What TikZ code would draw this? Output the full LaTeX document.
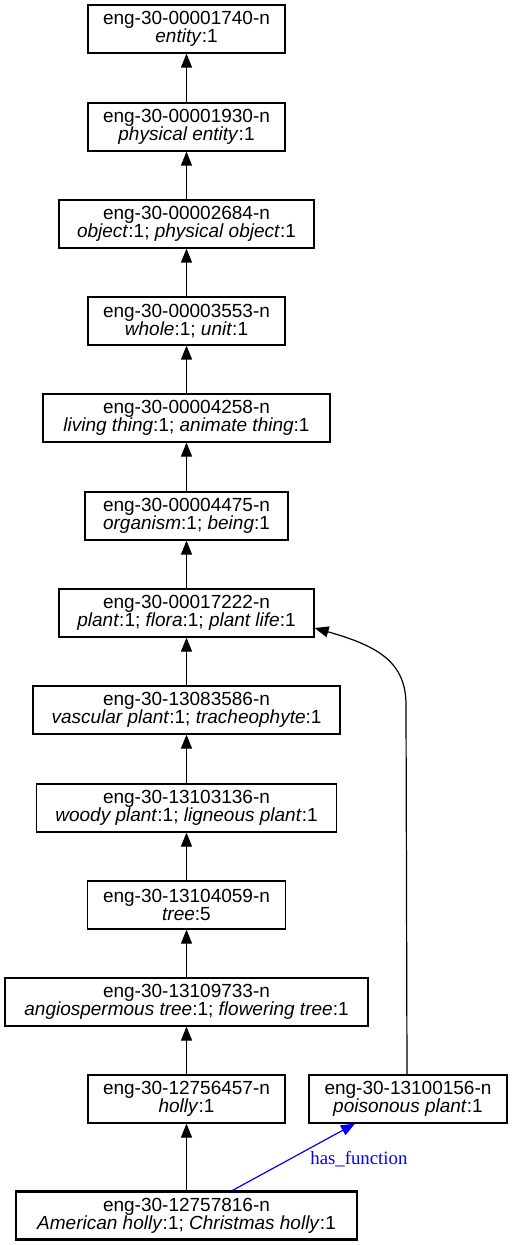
\documentclass[tikz,border=0pt]{standalone}
\usepackage{fontspec}
\setmainfont{Liberation Sans}
\newfontfamily\seriffont{Liberation Serif}
\usetikzlibrary{arrows.meta}
\begin{document}
\begin{tikzpicture}[x=0.5pt,y=-0.5pt,
  synset/.style={draw=black,line width=0.6pt,rectangle,inner sep=0pt,minimum height=24pt,
    align=center,font=\fontsize{9.5}{9}\selectfont},
  hyper/.style={draw=black,line width=0.6pt,-{Triangle[length=7pt,width=5.5pt]}},
  func/.style={draw=blue,line width=0.6pt,-{Triangle[length=7pt,width=5.5pt]}}]
\useasboundingbox (0,0) rectangle (512,1245);
\node[synset,minimum width=98.5pt]  (n1)  at (186.5,29)  {eng-30-00001740-n\\\textit{entity}:1};
\node[synset,minimum width=98.5pt]  (n2)  at (186.5,127) {eng-30-00001930-n\\\textit{physical entity}:1};
\node[synset,minimum width=127.5pt] (n3)  at (186.5,224) {eng-30-00002684-n\\\textit{object}:1; \textit{physical object}:1};
\node[synset,minimum width=98.5pt]  (n4)  at (186.5,321) {eng-30-00003553-n\\\textit{whole}:1; \textit{unit}:1};
\node[synset,minimum width=143.5pt] (n5)  at (186.5,418) {eng-30-00004258-n\\\textit{living thing}:1; \textit{animate thing}:1};
\node[synset,minimum width=101.5pt] (n6)  at (186.5,516) {eng-30-00004475-n\\\textit{organism}:1; \textit{being}:1};
\node[synset,minimum width=127.5pt] (n7)  at (186.5,613) {eng-30-00017222-n\\\textit{plant}:1; \textit{flora}:1; \textit{plant life}:1};
\node[synset,minimum width=153.5pt] (n8)  at (186.5,710) {eng-30-13083586-n\\\textit{vascular plant}:1; \textit{tracheophyte}:1};
\node[synset,minimum width=150pt]   (n9)  at (186.5,808) {eng-30-13103136-n\\\textit{woody plant}:1; \textit{ligneous plant}:1};
\node[synset,minimum width=99pt]    (n10) at (186.5,905) {eng-30-13104059-n\\\textit{tree}:5};
\node[synset,minimum width=181.5pt] (n11) at (186.5,1002) {eng-30-13109733-n\\\textit{angiospermous tree}:1; \textit{flowering tree}:1};
\node[synset,minimum width=98.5pt]  (n12) at (186.5,1099) {eng-30-12756457-n\\\textit{holly}:1};
\node[synset,minimum width=99pt]    (n13) at (408,1099) {eng-30-13100156-n\\\textit{poisonous plant}:1};
\node[synset,minimum width=170.5pt,line width=1.1pt] (n14) at (186.5,1215.5) {eng-30-12757816-n\\\textit{American holly}:1; \textit{Christmas holly}:1};
\draw[hyper] (n2) -- (n1);
\draw[hyper] (n3) -- (n2);
\draw[hyper] (n4) -- (n3);
\draw[hyper] (n5) -- (n4);
\draw[hyper] (n6) -- (n5);
\draw[hyper] (n7) -- (n6);
\draw[hyper] (n8) -- (n7);
\draw[hyper] (n9) -- (n8);
\draw[hyper] (n10) -- (n9);
\draw[hyper] (n11) -- (n10);
\draw[hyper] (n12) -- (n11);
\draw[hyper] (n14) -- (n12);
\coordinate (bend) at (406,705);
\draw[hyper] ([xshift=-0.5pt]n13.north) -- (bend) .. controls (406,662) and (378,646) .. ([yshift=-7.5pt]n7.east);
\draw[func] ([xshift=23pt]n14.north) -- node[pos=0.5,right=8pt,yshift=-1pt,text=blue,font=\seriffont\fontsize{9.4}{10}\selectfont,inner sep=0pt] (lbl) {has\_function} ([xshift=-26.5pt]n13.south);
\end{tikzpicture}
\end{document}
